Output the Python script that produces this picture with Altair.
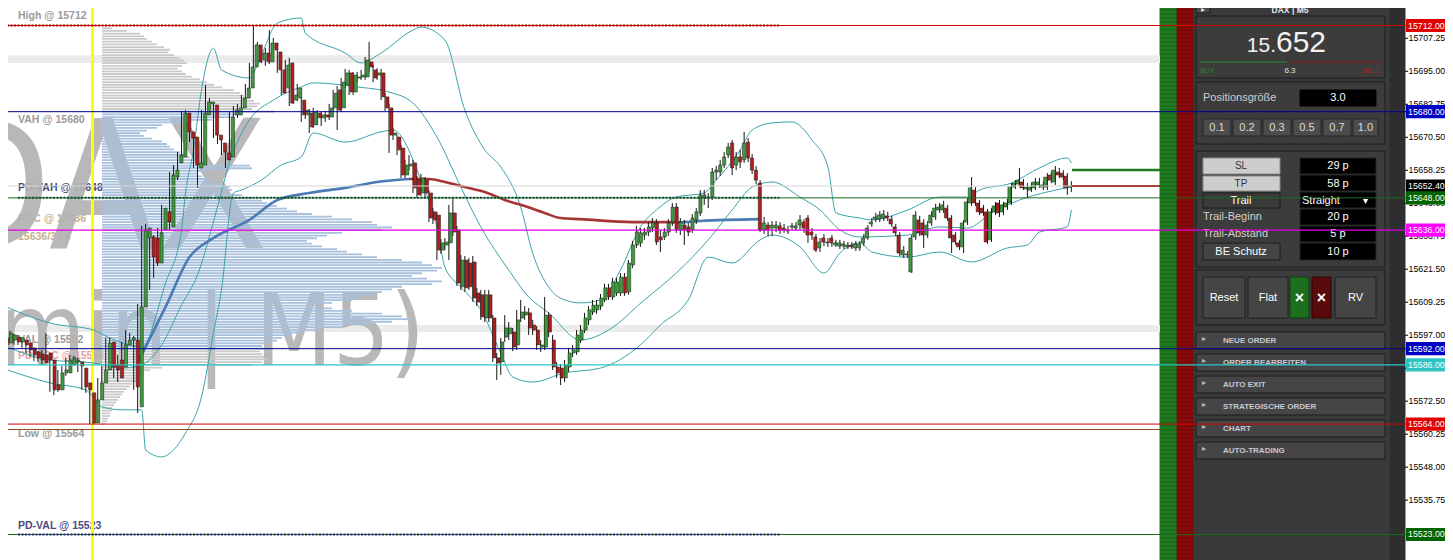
import altair as alt
import pandas as pd

# ---------------- layout constants (page pixels) ----------------
W, H, M = 1437, 552, 8
P_TOP, P_BOT = 15718.5, 15513.53
CX0, CSTEP = 2.0, 3.99
VP_X0 = 102
FONT = "Liberation Sans, Arial, sans-serif"
WM_FONT = "Liberation Sans Narrow, DejaVu Sans Condensed, Liberation Sans, sans-serif"

# ---------------- candle data (M5) ----------------
opens = [
15596.0, 15594.1, 15595.2, 15596.3, 15594.5, 15595.2, 15594.1, 15592.3, 15590.8, 15590.0,
15589.7, 15590.4, 15587.8, 15578.5, 15576.7, 15583.0, 15583.0, 15586.0, 15587.1, 15587.1,
15584.8, 15579.3, 15575.6, 15564.4, 15573.0, 15579.3, 15584.1, 15594.5, 15586.0, 15587.8,
15585.2, 15593.4, 15595.2, 15595.2, 15570.4, 15607.5, 15633.1, 15633.5, 15633.1, 15623.8,
15636.1, 15642.8, 15637.2, 15655.7, 15661.0, 15663.2, 15679.5, 15672.5, 15670.6, 15659.1,
15660.2, 15678.8, 15682.9, 15682.5, 15671.3, 15668.4, 15664.7, 15663.2, 15678.8, 15678.8,
15681.4, 15685.1, 15688.8, 15696.6, 15704.8, 15699.2, 15701.8, 15698.5, 15705.5, 15702.2,
15695.5, 15688.8, 15698.1, 15684.3, 15685.1, 15684.3, 15678.8, 15679.5, 15675.1, 15679.5,
15677.7, 15678.8, 15678.0, 15681.4, 15688.1, 15681.4, 15689.9, 15694.4, 15687.3, 15692.5,
15692.9, 15692.9, 15698.5, 15695.5, 15693.6, 15694.4, 15685.5, 15681.4, 15671.3, 15670.6,
15666.5, 15656.5, 15659.8, 15661.0, 15654.6, 15649.8, 15654.6, 15649.8, 15642.8, 15641.6,
15628.6, 15630.5, 15631.3, 15642.4, 15636.1, 15615.0, 15624.9, 15623.8, 15624.2, 15612.7,
15612.0, 15603.4, 15612.0, 15603.4, 15588.6, 15587.1, 15596.3, 15597.5, 15598.2, 15593.4,
15603.4, 15604.5, 15605.3, 15600.8, 15598.9, 15592.6, 15592.6, 15604.5, 15595.2, 15585.2,
15584.8, 15581.1, 15585.2, 15590.4, 15590.8, 15595.2, 15598.9, 15602.7, 15605.6, 15606.4,
15607.8, 15610.1, 15614.6, 15611.2, 15612.7, 15612.7, 15618.6, 15613.1, 15623.1, 15630.5,
15631.3, 15634.2, 15635.3, 15636.8, 15638.7, 15633.5, 15633.5, 15635.3, 15639.0, 15644.6,
15636.1, 15637.9, 15637.2, 15636.1, 15639.8, 15642.4, 15647.9, 15647.9, 15648.3, 15657.6,
15657.6, 15660.2, 15663.9, 15668.4, 15660.2, 15663.2, 15662.1, 15668.7, 15662.8, 15658.3,
15653.5, 15636.1, 15637.9, 15636.8, 15636.8, 15637.6, 15636.8, 15635.7, 15637.2, 15636.8,
15637.9, 15639.0, 15640.5, 15635.3, 15633.5, 15629.4, 15633.1, 15631.6, 15633.1, 15630.5,
15630.1, 15630.1, 15629.8, 15630.5, 15629.4, 15629.4, 15631.3, 15633.1, 15638.3, 15640.1,
15640.1, 15640.5, 15641.3, 15640.1, 15637.2, 15634.2, 15626.8, 15626.8, 15620.5, 15633.5,
15639.8, 15638.7, 15634.2, 15638.7, 15640.9, 15643.5, 15643.5, 15644.2, 15640.5, 15634.2,
15631.3, 15629.8, 15639.0, 15646.1, 15650.9, 15646.1, 15644.2, 15642.8, 15632.4, 15642.8,
15646.1, 15642.8, 15644.6, 15646.1, 15652.0, 15653.1, 15653.9, 15651.3, 15650.9, 15651.7,
15652.8, 15652.0, 15652.0, 15656.5, 15653.9, 15657.6, 15657.2, 15656.1, 15652.0]
closes = [
15593.4, 15597.8, 15597.1, 15594.5, 15596.0, 15593.4, 15591.5, 15589.7, 15588.6, 15587.8,
15586.7, 15587.8, 15576.7, 15576.7, 15583.0, 15584.1, 15587.8, 15588.6, 15587.8, 15585.6,
15577.8, 15576.7, 15564.4, 15573.0, 15579.3, 15584.1, 15594.1, 15585.2, 15584.1, 15581.1,
15593.4, 15595.2, 15596.0, 15577.8, 15607.5, 15636.1, 15636.8, 15626.0, 15623.8, 15635.0,
15644.2, 15639.0, 15656.5, 15658.3, 15663.9, 15679.5, 15672.5, 15670.2, 15660.2, 15661.0,
15679.5, 15683.6, 15683.6, 15671.3, 15669.5, 15665.0, 15662.1, 15678.0, 15680.6, 15681.4,
15685.1, 15688.8, 15696.6, 15704.8, 15698.5, 15701.8, 15698.5, 15705.5, 15702.9, 15695.5,
15686.9, 15697.3, 15683.2, 15686.2, 15688.8, 15678.8, 15680.6, 15674.3, 15679.9, 15677.7,
15678.8, 15678.0, 15681.4, 15686.9, 15680.6, 15691.0, 15694.4, 15687.3, 15693.6, 15692.9,
15693.6, 15699.2, 15696.6, 15692.5, 15694.4, 15685.5, 15681.4, 15671.3, 15672.1, 15665.8,
15656.5, 15660.2, 15660.6, 15651.7, 15649.1, 15655.4, 15649.8, 15640.5, 15639.8, 15628.6,
15631.3, 15631.6, 15642.4, 15635.3, 15616.4, 15624.9, 15614.6, 15615.0, 15610.8, 15609.3,
15603.8, 15612.0, 15603.4, 15588.6, 15586.7, 15594.5, 15599.7, 15599.7, 15592.6, 15602.7,
15605.6, 15605.6, 15599.7, 15598.9, 15593.4, 15593.4, 15604.5, 15598.2, 15585.2, 15583.0,
15581.1, 15586.0, 15590.4, 15591.5, 15597.1, 15598.9, 15603.4, 15606.4, 15608.2, 15608.2,
15610.8, 15614.6, 15611.2, 15616.8, 15616.8, 15618.6, 15612.7, 15623.8, 15630.5, 15635.3,
15635.0, 15635.3, 15637.2, 15638.7, 15631.6, 15632.4, 15635.3, 15638.7, 15644.6, 15636.1,
15639.0, 15636.1, 15635.3, 15640.5, 15642.8, 15649.1, 15649.1, 15648.3, 15657.6, 15658.3,
15660.2, 15663.2, 15666.9, 15659.1, 15663.2, 15661.3, 15668.4, 15662.8, 15658.3, 15654.6,
15636.1, 15638.7, 15636.1, 15637.9, 15637.9, 15636.1, 15636.1, 15636.1, 15637.6, 15637.6,
15639.8, 15636.8, 15634.2, 15634.2, 15628.6, 15631.6, 15631.6, 15631.3, 15631.3, 15631.3,
15631.3, 15630.9, 15630.5, 15629.8, 15630.9, 15630.9, 15633.1, 15636.8, 15639.0, 15640.9,
15641.6, 15642.0, 15640.5, 15638.3, 15635.0, 15627.5, 15628.6, 15627.2, 15633.1, 15641.6,
15635.0, 15634.2, 15637.9, 15641.6, 15644.2, 15644.6, 15645.4, 15640.5, 15633.1, 15631.6,
15629.8, 15638.7, 15646.5, 15651.7, 15646.1, 15642.8, 15642.4, 15631.6, 15642.8, 15645.0,
15642.4, 15645.4, 15646.1, 15652.0, 15653.5, 15654.6, 15651.7, 15652.0, 15652.0, 15653.9,
15653.9, 15652.8, 15655.7, 15654.6, 15658.3, 15656.5, 15655.7, 15651.7, 15652.4]
highs = [
15597.8, 15599.7, 15598.6, 15597.5, 15597.1, 15596.3, 15595.2, 15593.4, 15591.9, 15591.1,
15591.5, 15597.8, 15589.7, 15579.6, 15584.1, 15585.6, 15588.6, 15589.7, 15589.3, 15588.6,
15585.9, 15580.4, 15576.7, 15575.6, 15581.1, 15585.6, 15596.0, 15596.0, 15593.4, 15589.7,
15594.5, 15598.9, 15597.8, 15596.7, 15608.6, 15637.6, 15638.3, 15635.0, 15634.2, 15636.8,
15645.4, 15644.2, 15657.6, 15660.2, 15665.0, 15680.3, 15680.6, 15674.0, 15671.7, 15665.8,
15680.6, 15689.9, 15685.1, 15683.6, 15672.8, 15670.2, 15665.8, 15679.9, 15682.1, 15682.9,
15686.2, 15690.3, 15698.1, 15712.0, 15705.9, 15703.6, 15703.6, 15710.3, 15707.4, 15703.6,
15697.0, 15699.2, 15700.0, 15688.1, 15690.3, 15685.8, 15682.9, 15681.0, 15681.4, 15680.6,
15679.9, 15680.3, 15682.9, 15688.1, 15689.5, 15692.5, 15695.9, 15695.5, 15694.7, 15694.7,
15695.5, 15700.3, 15705.9, 15697.3, 15696.2, 15695.9, 15686.9, 15682.9, 15673.9, 15671.3,
15667.6, 15662.1, 15663.9, 15662.1, 15656.1, 15656.9, 15655.7, 15650.9, 15644.2, 15642.8,
15632.7, 15633.1, 15645.4, 15647.9, 15637.6, 15626.8, 15626.4, 15625.7, 15626.4, 15614.6,
15613.8, 15613.8, 15613.8, 15604.5, 15590.4, 15596.0, 15604.5, 15601.9, 15599.7, 15606.4,
15610.1, 15607.8, 15607.1, 15602.7, 15600.4, 15595.2, 15611.2, 15605.6, 15597.1, 15587.1,
15586.3, 15587.8, 15592.3, 15593.4, 15598.9, 15600.8, 15605.3, 15607.8, 15610.1, 15610.1,
15612.3, 15616.1, 15616.1, 15618.3, 15618.3, 15620.1, 15620.1, 15624.9, 15632.0, 15637.6,
15636.8, 15636.8, 15639.0, 15640.5, 15640.1, 15636.1, 15636.8, 15640.1, 15646.1, 15646.1,
15640.5, 15639.8, 15638.7, 15642.0, 15644.2, 15650.9, 15650.9, 15649.8, 15659.1, 15659.8,
15662.1, 15665.0, 15668.4, 15669.5, 15665.0, 15665.8, 15672.5, 15670.2, 15664.3, 15659.8,
15654.6, 15640.9, 15639.0, 15639.4, 15639.4, 15639.0, 15638.3, 15637.6, 15638.7, 15639.0,
15641.6, 15640.1, 15641.6, 15636.8, 15634.6, 15633.1, 15634.6, 15633.1, 15634.2, 15632.4,
15632.4, 15632.0, 15631.6, 15631.6, 15632.0, 15632.0, 15634.6, 15637.9, 15640.5, 15642.4,
15643.1, 15643.5, 15642.8, 15641.3, 15638.3, 15635.3, 15630.1, 15628.3, 15634.2, 15643.1,
15641.3, 15640.1, 15639.4, 15643.1, 15645.8, 15646.1, 15646.9, 15645.4, 15641.6, 15635.3,
15632.4, 15639.8, 15647.9, 15655.7, 15652.0, 15647.2, 15645.4, 15643.9, 15644.2, 15646.5,
15647.2, 15646.5, 15647.6, 15653.5, 15654.6, 15659.1, 15655.0, 15653.5, 15653.5, 15655.4,
15655.4, 15654.2, 15657.2, 15657.6, 15659.8, 15659.1, 15658.3, 15657.2, 15654.2]
lows = [
15591.5, 15593.0, 15594.1, 15593.4, 15593.4, 15592.3, 15590.4, 15589.0, 15587.4, 15587.1,
15586.0, 15587.1, 15576.0, 15574.8, 15576.0, 15581.9, 15581.9, 15584.8, 15585.6, 15583.3,
15576.7, 15575.6, 15564.0, 15564.0, 15572.2, 15578.5, 15583.3, 15584.1, 15581.1, 15579.6,
15584.1, 15592.3, 15594.5, 15576.7, 15568.1, 15606.4, 15628.6, 15613.8, 15618.3, 15622.7,
15634.2, 15637.6, 15636.1, 15649.1, 15654.6, 15662.1, 15671.0, 15668.7, 15659.1, 15651.7,
15659.1, 15677.7, 15681.4, 15670.2, 15668.0, 15663.9, 15659.1, 15662.1, 15677.7, 15677.7,
15679.9, 15684.3, 15688.1, 15695.5, 15697.3, 15698.1, 15697.0, 15697.7, 15701.8, 15694.4,
15686.2, 15687.7, 15682.1, 15682.9, 15684.0, 15676.2, 15677.3, 15672.1, 15674.0, 15675.1,
15674.7, 15676.2, 15676.9, 15680.3, 15673.2, 15679.9, 15688.8, 15686.2, 15686.2, 15691.0,
15691.8, 15691.8, 15694.7, 15691.0, 15691.8, 15684.3, 15680.3, 15664.7, 15669.5, 15663.9,
15655.4, 15655.4, 15658.3, 15649.8, 15648.0, 15648.7, 15648.3, 15639.0, 15638.3, 15624.9,
15627.2, 15628.6, 15624.9, 15633.8, 15615.3, 15613.8, 15613.1, 15613.8, 15609.3, 15607.8,
15602.7, 15601.9, 15601.9, 15587.1, 15580.4, 15582.3, 15594.5, 15595.2, 15591.1, 15591.5,
15601.9, 15602.7, 15597.1, 15597.1, 15591.5, 15590.8, 15591.5, 15596.3, 15584.1, 15581.1,
15578.5, 15579.6, 15583.3, 15588.9, 15589.7, 15594.1, 15597.8, 15600.8, 15604.5, 15604.9,
15606.4, 15609.3, 15610.1, 15610.1, 15611.6, 15611.6, 15611.6, 15612.0, 15621.9, 15629.4,
15629.8, 15632.4, 15633.8, 15635.3, 15630.5, 15627.9, 15632.4, 15633.8, 15637.6, 15635.0,
15634.2, 15630.5, 15633.8, 15635.0, 15638.3, 15641.3, 15645.4, 15644.2, 15647.2, 15654.6,
15656.1, 15659.1, 15662.8, 15656.5, 15658.3, 15659.1, 15661.0, 15661.3, 15656.9, 15653.1,
15635.3, 15634.6, 15633.8, 15633.8, 15635.3, 15634.6, 15635.0, 15634.6, 15636.1, 15635.7,
15636.1, 15635.0, 15631.3, 15632.4, 15627.9, 15627.9, 15630.1, 15629.8, 15629.8, 15629.8,
15629.0, 15629.0, 15629.0, 15629.0, 15628.3, 15628.3, 15630.1, 15632.4, 15637.2, 15639.0,
15639.0, 15639.4, 15639.4, 15637.2, 15633.8, 15626.4, 15625.7, 15625.7, 15620.1, 15632.4,
15633.8, 15629.4, 15633.1, 15637.6, 15639.8, 15642.4, 15642.4, 15639.4, 15627.5, 15630.5,
15628.6, 15627.5, 15637.9, 15645.0, 15645.0, 15641.6, 15641.3, 15630.9, 15631.6, 15641.6,
15640.9, 15641.6, 15643.5, 15645.4, 15651.3, 15652.4, 15650.9, 15647.9, 15650.2, 15650.9,
15651.7, 15650.9, 15650.9, 15653.5, 15652.8, 15655.4, 15654.6, 15649.1, 15650.2]

# ---------------- Bollinger bands (read at sample bars) ----------------
bb_up_idx = [0, 6, 12, 23, 27, 32, 35, 41, 45, 46, 48, 50, 53, 55, 62, 65, 69, 75, 76, 86, 90,
             95, 103, 105, 111, 116, 121, 125, 130, 133, 137, 141, 145, 150, 155, 160, 164, 169,
             176, 179, 185, 188, 193, 198, 203, 207, 209, 215, 218, 227, 235, 242, 245, 253, 260, 267, 268]
bb_up_val = [15608.2, 15604.5, 15601.5, 15598.9, 15596.0, 15593.4, 15592.6, 15616.4, 15636.1, 15649.8,
             15665.8, 15688.1, 15703.6, 15695.5, 15692.5, 15701.0, 15712.9, 15714.8, 15709.2, 15701.8,
             15698.1, 15701.8, 15710.3, 15711.4, 15706.6, 15680.6, 15665.8, 15659.5, 15644.6, 15627.5,
             15614.9, 15610.1, 15609.0, 15610.1, 15621.2, 15637.2, 15643.5, 15648.3, 15649.8, 15654.6,
             15665.8, 15673.2, 15675.8, 15676.2, 15669.5, 15659.5, 15642.4, 15640.5, 15639.8, 15643.5,
             15648.3, 15648.3, 15650.9, 15653.5, 15659.1, 15662.8, 15661.0]
bb_mid_idx = [0, 12, 23, 30, 35, 40, 45, 49, 54, 57, 62, 68, 75, 78, 89, 97, 103, 109, 115, 120,
              127, 132, 137, 145, 152, 161, 169, 177, 183, 188, 193, 200, 205, 210, 215, 227, 235,
              242, 248, 255, 262, 268]
bb_mid_val = [15593.4, 15587.8, 15586.7, 15584.8, 15586.0, 15593.4, 15608.2, 15619.4, 15644.6, 15661.0,
              15676.9, 15684.3, 15689.2, 15690.7, 15689.2, 15687.3, 15683.2, 15670.6, 15652.0, 15637.2,
              15621.2, 15611.2, 15605.3, 15595.2, 15598.9, 15610.1, 15620.1, 15632.4, 15643.5, 15652.0,
              15653.9, 15648.3, 15643.5, 15636.1, 15633.5, 15634.2, 15637.2, 15636.8, 15642.4, 15647.2,
              15650.2, 15652.0]
bb_low_idx = [0, 12, 21, 25, 30, 35, 36, 40, 43, 46, 50, 53, 55, 58, 60, 65, 70, 75, 78, 86, 95, 98,
              105, 109, 111, 115, 120, 125, 128, 133, 141, 150, 160, 165, 172, 177, 183, 190, 193,
              200, 206, 210, 215, 218, 227, 235, 243, 252, 257, 260, 267, 268]
bb_low_val = [15584.8, 15579.3, 15576.7, 15570.4, 15569.3, 15569.3, 15554.4, 15551.8, 15554.4, 15560.7,
              15574.1, 15597.8, 15613.8, 15649.8, 15650.9, 15654.6, 15660.2, 15663.2, 15672.1, 15668.7,
              15672.5, 15673.2, 15654.6, 15637.2, 15622.3, 15614.9, 15606.4, 15590.4, 15581.5, 15579.6,
              15583.0, 15584.8, 15593.4, 15600.8, 15610.1, 15626.0, 15623.8, 15632.4, 15634.2, 15629.8,
              15620.1, 15627.5, 15631.3, 15627.9, 15626.0, 15627.9, 15624.2, 15629.4, 15630.5, 15635.3,
              15637.2, 15643.5]

# ---------------- long moving average (blue rising / red falling) ----------------
ma_idx = [34, 41, 47, 53, 62, 69, 77, 86, 94, 102,
          102, 107, 111, 116, 121, 126, 130, 136, 140, 145, 158, 167, 170,
          170, 175, 190]
ma_val = [15586.7, 15607.5, 15626.0, 15633.1, 15639.8, 15647.2, 15649.8, 15651.7, 15653.9, 15655.0,
          15655.0, 15655.0, 15653.9, 15652.0, 15650.2, 15647.2, 15645.4, 15642.4, 15640.5, 15640.1,
          15639.0, 15639.0, 15638.9,
          15638.9, 15639.4, 15640.1]
ma_seg = ["a"] * 10 + ["b"] * 13 + ["c"] * 3
ma_color = {"a": "#4a7bb5", "b": "#a83535", "c": "#4a7bb5"}

# ---------------- volume profile (one level per point) ----------------
vp_levels = list(range(15711, 15563, -1))
vp_volume = [10, 25, 38,
             42, 45, 50, 55, 62, 68, 66, 72, 78, 82, 85, 80, 76, 80, 84, 90,
             98, 105, 112, 120, 132, 138, 142, 148, 152, 158, 155, 150,
             172,
             140, 132, 110, 85, 60, 55, 45, 38, 42, 50, 60, 65, 68, 72, 78, 85,
             88, 92, 95, 148, 150, 110, 95, 100, 105, 110, 120, 128, 130, 125, 140, 150,
             160, 165, 175, 185, 195, 210, 230, 250, 270, 275, 290, 280, 240, 225, 215, 205,
             210, 220, 235, 245, 260, 275, 300, 320, 330, 340, 335, 320, 310, 325, 340, 330,
             300, 290, 280, 270, 260, 250, 230, 215, 230, 250, 280, 300, 310, 290, 270, 240,
             220, 200, 190, 180, 175, 165, 160, 170, 158, 160, 162, 165, 160, 150, 60, 48,
             42, 40, 38, 35, 30, 28, 25, 22, 20, 18, 16, 14, 12, 10, 10, 8, 8, 6, 5, 3]
VAH, VAL = 15680, 15592

# ---------------- horizontal levels ----------------
lvl_price = [15712, 15680, 15652.4, 15652.4, 15658.3, 15648, 15636, 15592, 15586, 15564, 15562, 15523]
lvl_x1 = [0, 0, 0, 1072, 1072, 0, 0, 0, 0, 0, 0, 0]
lvl_x2 = [1406, 1406, 1072, 1160, 1160, 1406, 1406, 1406, 1406, 1406, 1160, 1406]
lvl_col = ["#d40000", "#00008b", "#d6d6d6", "#8b0000", "#1f7a1f", "#1a6b1a", "#e000e0",
           "#00008b", "#2cc6c6", "#d40000", "#8b4513", "#1a6b1a"]
lvl_w = [1, 1, 1, 1.3, 2.5, 1, 1.3, 1, 1.3, 1, 1, 1]
dash_price = [15712, 15648, 15523]
dash_col = ["#b00000", "#14503a", "#2a2a7a"]

# session labels on the left
lab_text = ["High @ 15712", "VAH @ 15680", "PD-VAH @ 15648", "POC @ 15636", "15636/39.4",
            "VAL @ 15592", "PD-POC @ 15586", "Low @ 15564", "PD-VAL @ 15523"]
lab_price = [15712, 15680, 15648, 15636, 15636, 15592, 15586, 15564, 15523]
lab_dy = [-10, 8, -10, -11, 7, -9, -9, 10, -8]
lab_col = ["#9a9a9a", "#9a9a9a", "#4b4b7d", "#c5b08c", "#c5b08c", "#9a9a9a", "#e6a0a0", "#9a9a9a", "#4b4b7d"]

# price axis
tick_vals = [15719.50, 15707.25, 15695.00, 15682.75, 15670.50, 15658.25, 15646.00, 15633.75,
             15621.50, 15609.25, 15597.00, 15584.75, 15572.50, 15560.25, 15548.00, 15535.75]
tag_price = [15712, 15680, 15652.4, 15648, 15636, 15592, 15586, 15564, 15523]
tag_col = ["#e00000", "#0000c0", "#000000", "#006400", "#ff00ff", "#0000c0", "#2ec4c4", "#e00000", "#006400"]

# gray zones
zone_lo = [15698.1, 15598.2]
zone_hi = [15701.0, 15600.8]


# ---------------- scale helpers ----------------
def sc_px():
    return alt.Scale(domain=[M, M + W], nice=False, zero=False)


def sc_py():
    return alt.Scale(domain=[M + H, M], nice=False, zero=False)


def sc_price():
    return alt.Scale(domain=[P_BOT, P_TOP], nice=False, zero=False)


def sc_idx():
    return alt.Scale(domain=[(M - CX0) / CSTEP, (M + W - CX0) / CSTEP], nice=False, zero=False)


def sc_vol():
    return alt.Scale(domain=[M - VP_X0, M + W - VP_X0], nice=False, zero=False)


def X(f, sc):
    return alt.X(f, type="quantitative", scale=sc, axis=None)


def Y(f, sc):
    return alt.Y(f, type="quantitative", scale=sc, axis=None)


def rects(rows):
    df = pd.DataFrame(rows, columns=["x1", "x2", "y1", "y2", "fill", "stroke"])
    return alt.Chart(df).mark_rect(strokeWidth=1).encode(
        x=X("x1", sc_px()), x2="x2", y=Y("y1", sc_py()), y2="y2",
        fill=alt.Fill("fill:N", scale=None), stroke=alt.Stroke("stroke:N", scale=None))


def texts(rows, align="center", weight="normal", baseline="middle", font=FONT):
    df = pd.DataFrame(rows, columns=["t", "x", "y", "s", "c"])
    return alt.Chart(df).mark_text(align=align, baseline=baseline, fontWeight=weight, font=font).encode(
        x=X("x", sc_px()), y=Y("y", sc_py()), text="t:N",
        size=alt.Size("s:Q", scale=None), color=alt.Color("c:N", scale=None))


layers = []

# ---- background strips / panel ----
bg = [(1160, 1177, 0, 560, "#1f7a1f", "#1f7a1f"),
      (1177, 1194, 0, 560, "#8a0b0b", "#8a0b0b"),
      (1194, 1390, 0, 560, "#3a3a3a", "#3a3a3a"),
      (1390, 1405, 0, 560, "#2e2e31", "#2e2e31")]
layers.append(rects(bg))
stripe_y = list(range(2, 560, 4))
stripes = pd.DataFrame({"y": stripe_y * 2,
                        "x1": [1160] * len(stripe_y) + [1177] * len(stripe_y),
                        "x2": [1177] * len(stripe_y) + [1194] * len(stripe_y),
                        "c": ["#17621a"] * len(stripe_y) + ["#6c0707"] * len(stripe_y)})
layers.append(alt.Chart(stripes).mark_rule(strokeWidth=1).encode(
    x=X("x1", sc_px()), x2="x2", y=Y("y", sc_py()), color=alt.Color("c:N", scale=None)))

# ---- gray zones ----
zones = pd.DataFrame({"lo": zone_lo, "hi": zone_hi, "x1": [0, 0], "x2": [1160, 1160]})
layers.append(alt.Chart(zones).mark_rect(color="#ebebeb").encode(
    x=X("x1", sc_px()), x2="x2", y=Y("lo", sc_price()), y2="hi"))

# ---- left labels (under the watermark) ----
labs = pd.DataFrame({"t": lab_text, "p": lab_price, "dy": lab_dy, "c": lab_col, "x": [18] * len(lab_text)})
for dy in sorted(set(lab_dy)):
    sub = labs[labs.dy == dy]
    layers.append(alt.Chart(sub).mark_text(align="left", baseline="middle", dy=dy, fontSize=10.5,
                                           fontWeight="bold", font=FONT).encode(
        x=X("x", sc_px()), y=Y("p", sc_price()), text="t:N", color=alt.Color("c:N", scale=None)))

# ---- watermark ----
wm = pd.DataFrame({"t": ["DAX", "0min | M5)"], "x": [268, 425], "y": [248, 365], "s": [178, 100]})
layers.append(alt.Chart(wm).mark_text(align="right", baseline="alphabetic", font=WM_FONT,
                                      color="#b3b3b3", opacity=0.92).encode(
    x=X("x", sc_px()), y=Y("y", sc_py()), text="t:N", size=alt.Size("s:Q", scale=None)))

# ---- volume profile ----
vp = pd.DataFrame({"p": vp_levels, "v": vp_volume})
vp["zero"] = 0
vp["c"] = ["#a9c0dc" if VAL <= p <= VAH else "#cacaca" for p in vp_levels]
layers.append(alt.Chart(vp).mark_rule(strokeWidth=1.8).encode(
    x=X("zero", sc_vol()), x2="v", y=Y("p", sc_price()), color=alt.Color("c:N", scale=None)))

# ---- yellow session line ----
yl = pd.DataFrame({"x": [92.5], "y1": [0], "y2": [560]})
layers.append(alt.Chart(yl).mark_rule(color="#ffff00", strokeWidth=3).encode(
    x=X("x", sc_px()), y=Y("y1", sc_py()), y2="y2"))

# ---- bollinger bands ----
bands = pd.concat([
    pd.DataFrame({"i": bb_up_idx, "v": bb_up_val, "b": "up"}),
    pd.DataFrame({"i": bb_mid_idx, "v": bb_mid_val, "b": "mid"}),
    pd.DataFrame({"i": bb_low_idx, "v": bb_low_val, "b": "low"})])
layers.append(alt.Chart(bands).mark_line(color="#3aa3ab", strokeWidth=1, interpolate="monotone").encode(
    x=X("i", sc_idx()), y=Y("v", sc_price()), detail="b:N", order="i:Q"))

# ---- moving average ----
ma = pd.DataFrame({"i": ma_idx, "v": ma_val, "seg": ma_seg})
ma["c"] = [ma_color[s] for s in ma_seg]
layers.append(alt.Chart(ma).mark_line(strokeWidth=2.6, interpolate="monotone").encode(
    x=X("i", sc_idx()), y=Y("v", sc_price()), detail="seg:N", order="i:Q",
    color=alt.Color("c:N", scale=None)))

# ---- candles ----
cd = pd.DataFrame({"o": opens, "h": highs, "l": lows, "c": closes})
cd["i"] = range(len(cd))
layers.append(alt.Chart(cd).mark_rule(color="#151515", strokeWidth=1).encode(
    x=X("i", sc_idx()), y=Y("l", sc_price()), y2="h"))
layers.append(alt.Chart(cd).mark_bar(width=3.2, stroke="#1a1a1a", strokeWidth=0.5).encode(
    x=X("i", sc_idx()), y=Y("o", sc_price()), y2="c",
    fill=alt.condition("datum.c >= datum.o", alt.value("#3d9b3d"), alt.value("#b01e1e"))))

# ---- right trading panel ----
panel = [(1196, 1210, 0, 13, "#4a4a4a", "#1e1e1e"),
         (1196, 1385, 16, 78, "#3c3c3c", "#1c1c1c"),
         (1196, 1385, 82, 144, "#3c3c3c", "#1c1c1c"),
         (1300, 1376, 90, 106, "#000000", "#000000"),
         (1196, 1385, 151, 267, "#3c3c3c", "#1c1c1c"),
         (1203, 1280, 158, 174, "#cdcdcd", "#8a8a8a"),
         (1203, 1280, 176, 191, "#cdcdcd", "#8a8a8a"),
         (1203, 1280, 193, 208, "#3a3a3a", "#1c1c1c"),
         (1203, 1280, 243, 260, "#444444", "#1c1c1c"),
         (1196, 1385, 270, 325, "#3c3c3c", "#1c1c1c"),
         (1203, 1245, 277, 318, "#454545", "#202020"),
         (1248, 1288, 277, 318, "#454545", "#202020"),
         (1290, 1309, 277, 318, "#1d6e1d", "#103c10"),
         (1312, 1331, 277, 318, "#5a0a0a", "#2a0505"),
         (1335, 1376, 277, 318, "#454545", "#202020")]
for a, b in [(1203, 1231), (1233, 1261), (1263, 1291), (1293, 1321), (1323, 1351), (1353, 1378)]:
    panel.append((a, b, 119, 136, "#4c4c4c", "#262626"))
for a, b in [(158, 174), (175, 191), (192, 208), (209, 225), (226, 242), (243, 260)]:
    panel.append((1300, 1376, a, b, "#000000", "#262626"))
row_names = ["NEUE ORDER", "ORDER BEARBEITEN", "AUTO EXIT", "STRATEGISCHE ORDER", "CHART", "AUTO-TRADING"]
row_top = [332, 354, 376, 398, 420, 442]
for t in row_top:
    panel.append((1196, 1385, t, t + 17, "#454547", "#1c1c1c"))
layers.append(rects(panel))
panel_line = pd.DataFrame({"x1": [1200, 1287], "x2": [1287, 1380], "y": [62, 62], "c": ["#2a8a2a", "#8e1a1a"]})
layers.append(alt.Chart(panel_line).mark_rule(strokeWidth=1).encode(
    x=X("x1", sc_px()), x2="x2", y=Y("y", sc_py()), color=alt.Color("c:N", scale=None)))

tc = [("6.3", 1290, 71, 8, "#e0e0e0"), ("3.0", 1338, 98, 11, "#ffffff"),
      ("0.1", 1217, 127.5, 11, "#dddddd"), ("0.2", 1247, 127.5, 11, "#dddddd"),
      ("0.3", 1277, 127.5, 11, "#dddddd"), ("0.5", 1307, 127.5, 11, "#dddddd"),
      ("0.7", 1337, 127.5, 11, "#dddddd"), ("1.0", 1365.5, 127.5, 11, "#dddddd"),
      ("SL", 1241, 166, 10, "#333333"), ("TP", 1241, 183.5, 10, "#333333"),
      ("Trail", 1241, 200.5, 11, "#ffffff"), ("BE Schutz", 1241, 251.5, 11, "#ffffff"),
      ("29 p", 1338, 166, 11, "#ffffff"), ("58 p", 1338, 183.5, 11, "#ffffff"),
      ("20 p", 1338, 217, 11, "#ffffff"), ("5 p", 1338, 234, 11, "#ffffff"),
      ("10 p", 1338, 251.5, 11, "#ffffff"),
      ("Reset", 1224, 297.5, 11, "#ffffff"), ("Flat", 1268, 297.5, 11, "#ffffff"),
      ("RV", 1355.5, 297.5, 11, "#ffffff"), ("▸", 1203, 9.5, 8, "#dddddd")]
layers.append(texts(tc, "center"))
layers.append(texts([("DAX | M5", 1290, 10, 8.5, "#e8e8e8"), ("×", 1299.5, 298, 16, "#ffffff"),
                     ("×", 1321.5, 298, 16, "#ffffff")], "center", "bold"))
tl = [("Positionsgröße", 1203, 98, 11, "#d0d0d0"), ("Trail-Beginn", 1203, 217, 11, "#d0d0d0"),
      ("Trail-Abstand", 1203, 234, 11, "#d0d0d0"), ("Straight", 1302, 200.5, 11, "#ffffff"),
      ("BUY", 1200, 71, 7, "#2e8b2e"), ("▾", 1363, 200.5, 10, "#ffffff")]
for t in row_top:
    tl.append(("▸", 1202, t + 7, 8, "#bbbbbb"))
layers.append(texts(tl, "left"))
layers.append(texts([(n, 1223, t + 8.5, 8, "#c8c8d0") for n, t in zip(row_names, row_top)], "left", "bold"))
layers.append(texts([("SELL", 1380, 71, 7, "#b02020")], "right"))
layers.append(texts([("15.", 1276, 52, 21, "#f2f2f2")], "right", baseline="alphabetic"))
layers.append(texts([("652", 1276, 52, 30, "#f2f2f2")], "left", baseline="alphabetic"))

# ---- horizontal level lines (over chart and panel) ----
lv = pd.DataFrame({"p": lvl_price, "x1": lvl_x1, "x2": lvl_x2, "c": lvl_col, "w": lvl_w})
layers.append(alt.Chart(lv).mark_rule().encode(
    x=X("x1", sc_px()), x2="x2", y=Y("p", sc_price()),
    color=alt.Color("c:N", scale=None), strokeWidth=alt.StrokeWidth("w:Q", scale=None)))
dl = pd.DataFrame({"p": dash_price, "c": dash_col, "x1": [0, 18, 18], "x2": [780, 780, 780]})
layers.append(alt.Chart(dl).mark_rule(strokeDash=[2, 1.5], strokeWidth=2).encode(
    x=X("x1", sc_px()), x2="x2", y=Y("p", sc_price()), color=alt.Color("c:N", scale=None)))

# ---- price axis ----
ax = pd.DataFrame({"p": tick_vals, "t": [f"{v:.2f}" for v in tick_vals], "x": 1408.5, "x1": 1405, "x2": 1408})
layers.append(alt.Chart(ax).mark_rule(color="#000000").encode(
    x=X("x1", sc_px()), x2="x2", y=Y("p", sc_price())))
layers.append(alt.Chart(ax).mark_text(align="left", baseline="middle", fontSize=8.8, font=FONT,
                                      color="#000000").encode(
    x=X("x", sc_px()), y=Y("p", sc_price()), text="t:N"))
tg = pd.DataFrame({"p": tag_price, "c": tag_col})
tg["lo"] = tg.p - 2.45
tg["hi"] = tg.p + 2.45
tg["x1"] = 1406
tg["x2"] = 1453
tg["tx"] = 1408
tg["t"] = [f"{v:.2f}" for v in tag_price]
layers.append(alt.Chart(tg).mark_rect().encode(
    x=X("x1", sc_px()), x2="x2", y=Y("lo", sc_price()), y2="hi", fill=alt.Fill("c:N", scale=None)))
layers.append(alt.Chart(tg).mark_text(align="left", baseline="middle", fontSize=8.8, font=FONT,
                                      color="#ffffff").encode(
    x=X("tx", sc_px()), y=Y("p", sc_price()), text="t:N"))

chart = alt.layer(*layers).resolve_scale(
    x="independent", y="independent", color="independent", size="independent",
    fill="independent", stroke="independent", strokeWidth="independent"
).properties(width=W, height=H, autosize=alt.AutoSizeParams(type="none"), padding=0,
             background="white").configure_view(stroke=None)

chart.save("out.html", embed_options={"renderer": "svg", "actions": False})
